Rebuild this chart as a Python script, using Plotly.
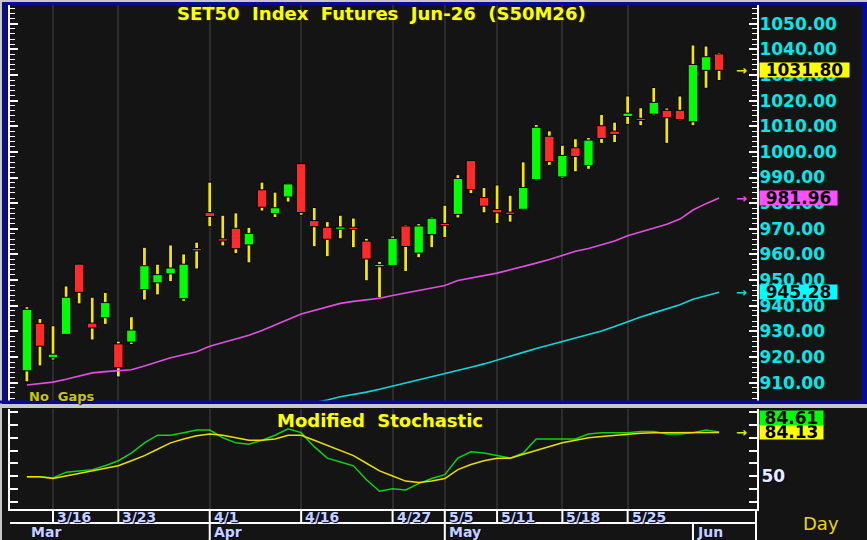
import plotly.graph_objects as go

W, H = 867, 540

# ---------------- data ----------------
days = ["3/12", "3/13", "3/16", "3/17", "3/18", "3/19", "3/20", "3/23", "3/24", "3/25",
        "3/26", "3/27", "3/30", "3/31", "4/1", "4/2", "4/3", "4/7", "4/8", "4/9",
        "4/10", "4/16", "4/17", "4/20", "4/21", "4/22", "4/23", "4/24", "4/27", "4/28",
        "4/29", "4/30", "5/5", "5/6", "5/7", "5/8", "5/11", "5/12", "5/13", "5/14",
        "5/15", "5/18", "5/19", "5/20", "5/21", "5/22", "5/25", "5/26", "5/27", "5/28",
        "5/29", "6/1", "6/2", "6/3"]

open_ = [914.6, 933.1, 919.7, 928.8, 956.2, 933.2, 935.3, 925.1, 925.8, 946.3,
         948.9, 952.4, 942.7, 961.8, 976.3, 966.1, 970.2, 963.7, 985.2, 975.9,
         982.4, 995.4, 973.2, 970.6, 969.8, 970.3, 965.2, 955.2, 955.7, 971.1,
         960.5, 967.7, 972.1, 975.6, 996.6, 982.2, 977.5, 976.0, 977.6, 989.2,
         1006.1, 990.2, 1001.6, 994.7, 1010.2, 1008.1, 1013.8, 1012.6, 1014.7, 1016.2,
         1016.2, 1011.7, 1031.8, 1038.2]
high = [939.6, 935.0, 932.2, 947.7, 956.5, 943.3, 945.2, 926.2, 935.7, 962.8,
        956.2, 963.7, 960.2, 964.8, 988.2, 975.3, 976.2, 970.6, 988.2, 984.3,
        987.8, 995.6, 978.3, 972.8, 975.3, 974.2, 966.3, 957.3, 967.2, 971.6,
        972.0, 974.6, 979.2, 991.1, 996.6, 986.1, 987.1, 983.1, 996.1, 1010.7,
        1008.2, 1002.6, 1005.1, 1005.6, 1014.6, 1011.6, 1021.8, 1017.2, 1025.1, 1017.1,
        1021.8, 1041.7, 1041.3, 1038.8]
low = [910.3, 916.5, 918.8, 928.5, 940.7, 926.6, 932.7, 912.2, 924.9, 942.2,
       944.2, 949.4, 941.7, 954.3, 970.8, 963.3, 960.3, 956.7, 976.9, 974.4,
       980.4, 975.3, 963.0, 959.1, 966.1, 962.6, 949.7, 943.1, 955.5, 953.3,
       958.7, 962.6, 966.6, 974.2, 983.7, 976.2, 972.0, 972.6, 977.5, 988.7,
       994.7, 989.6, 992.2, 993.2, 1003.3, 1003.6, 1010.7, 1010.2, 1014.1, 1003.3,
       1012.1, 1010.2, 1024.8, 1027.8]
close = [938.6, 924.2, 921.1, 943.3, 945.2, 931.3, 941.2, 915.8, 930.5, 955.6,
         952.1, 954.7, 956.2, 961.4, 974.8, 965.2, 962.2, 968.2, 978.4, 978.2,
         987.5, 976.3, 970.8, 965.9, 970.6, 969.7, 958.2, 956.1, 966.3, 963.1,
         971.1, 974.1, 971.2, 989.6, 985.3, 978.8, 976.2, 975.6, 986.1, 1009.6,
         996.2, 998.6, 998.2, 1004.6, 1005.2, 1006.8, 1015.1, 1012.2, 1019.3, 1013.3,
         1012.6, 1034.1, 1037.1, 1031.8]

ma_pink = [909.1, 909.6, 910.2, 911.3, 912.6, 913.8, 914.3, 914.6, 915.0, 916.5,
           918.2, 919.7, 920.9, 922.0, 924.2, 925.6, 926.9, 928.5, 930.3, 932.3,
           934.6, 936.8, 938.2, 939.6, 940.9, 941.7, 942.3, 942.9, 944.0, 945.0,
           946.0, 946.9, 947.9, 949.8, 950.8, 951.7, 952.7, 954.0, 955.2, 956.6,
           958.0, 959.7, 961.2, 962.3, 963.7, 965.2, 967.3, 968.8, 970.3, 971.8,
           973.8, 977.3, 979.8, 981.96]
# long average only enters the visible range around 4/20
ma_cyan_start = 21
ma_cyan = [901.3, 902.2, 903.2, 904.5, 905.3, 906.3, 907.4, 908.6, 909.8, 910.9,
           912.2, 913.5, 914.7, 916.0, 917.3, 918.7, 920.3, 921.8, 923.3, 924.7,
           925.9, 927.2, 928.6, 930.1, 931.9, 933.9, 935.6, 937.2, 938.8, 940.4,
           942.5, 944.0, 945.28]

stoch_k = [49.5, 49.5, 48.5, 53, 54, 55, 58, 62, 68, 76,
           82, 82, 84, 86, 86, 80, 76, 75, 78, 82,
           87, 84, 73, 64, 61, 58, 47, 38, 40, 39,
           44, 48, 51, 64, 69, 68, 66, 64, 68, 79,
           79, 79, 79, 83, 84, 84, 84, 85, 85, 83,
           83, 84, 86, 84.61]
stoch_d = [49.5, 49.5, 48, 50, 52, 54, 56, 58, 62, 66,
           71, 76, 79, 81.5, 83, 82, 80, 78, 78, 79,
           82, 82, 78, 74, 70, 66, 60, 54, 50, 46,
           45, 46, 48, 55, 59, 62, 64, 64, 67, 70,
           73, 76, 78, 80, 81, 82, 83, 83.5, 84, 84,
           84, 84, 84, 84.13]

week_labels = ["3/16", "3/23", "4/1", "4/16", "4/27", "5/5", "5/11", "5/18", "5/25"]
month_labels = ["Mar", "Apr", "May", "Jun"]
month_starts = ["3/12", "4/1", "5/5", "6/1"]

title_text = "SET50  Index  Futures  Jun-26  (S50M26)"
stoch_title = "Modified  Stochastic"

# ---------------- helpers ----------------
def px(x):
    return x / W

def py(y):
    return 1 - y / H

xs = list(range(len(days)))
week_idx = [days.index(d) for d in week_labels]
month_idx = [days.index(d) for d in month_starts]

UP, DOWN, WICK = "#00ff00", "#ff2a2a", "#f4e600"
PINK, CYAN = "#e050e0", "#10d8d8"
BG = "#141414"
GRID = "#2c2c2c"

fig = go.Figure()

# wicks
fig.add_trace(go.Bar(
    x=xs, base=low, y=[h - l for h, l in zip(high, low)], width=0.29,
    marker=dict(color=WICK, line=dict(color="#000000", width=1)),
    xaxis="x", yaxis="y", hoverinfo="skip"))
# bodies
body_base = [min(o, c) for o, c in zip(open_, close)]
body_h = [max(abs(c - o), 0.9) for o, c in zip(open_, close)]
body_col = [UP if c >= o else DOWN for o, c in zip(open_, close)]
fig.add_trace(go.Bar(
    x=xs, base=body_base, y=body_h, width=0.72,
    marker=dict(color=body_col, line=dict(color="#000000", width=1)),
    xaxis="x", yaxis="y", hoverinfo="skip"))

fig.add_trace(go.Scatter(x=xs, y=ma_pink, mode="lines",
                         line=dict(color=PINK, width=1.6), xaxis="x", yaxis="y"))
fig.add_trace(go.Scatter(x=xs[ma_cyan_start:], y=ma_cyan, mode="lines",
                         line=dict(color=CYAN, width=1.6), xaxis="x", yaxis="y"))

fig.add_trace(go.Scatter(x=xs, y=stoch_k, mode="lines",
                         line=dict(color="#10d010", width=1.5), xaxis="x2", yaxis="y2"))
fig.add_trace(go.Scatter(x=xs, y=stoch_d, mode="lines",
                         line=dict(color="#e8e000", width=1.5), xaxis="x2", yaxis="y2"))

# ---------------- axes ----------------
x_left_px, x_right_px = 10, 757
step = 13.06
x0_px = 26.9
xr = [(x_left_px - x0_px) / step, (x_right_px - x0_px) / step]

main_top, main_bot = 5, 402
sc = 2.564
yr = [1040 - (main_bot - 49.3) / sc, 1040 + (49.3 - main_top) / sc]
st_top, st_bot = 409, 509
ssc = 1.275
yr2 = [50 - (st_bot - 476) / ssc, 50 + (476 - st_top) / ssc]

lab_font = dict(family="DejaVu Sans", size=17, color="#10e0f0",
                weight="bold", shadow="1px 1px 1px #003000")

common_x = dict(range=xr, domain=[px(x_left_px), px(x_right_px)], showticklabels=False,
                tickvals=week_idx, ticks="", showgrid=True, gridcolor=GRID, gridwidth=2,
                zeroline=False, fixedrange=True)

fig.update_layout(
    width=W, height=H, margin=dict(l=0, r=0, t=0, b=0),
    paper_bgcolor=BG, plot_bgcolor=BG, showlegend=False, barmode="overlay",
    hovermode=False,
    xaxis=dict(**common_x, anchor="y", showline=False),
    xaxis2=dict(**common_x, anchor="y2", showline=True, linecolor="#ffffff", linewidth=2),
    yaxis=dict(domain=[py(main_bot), py(main_top)], range=yr, side="right", anchor="x",
               dtick=10, tick0=0, tickformat=".2f", showgrid=False, zeroline=False,
               ticks="inside", ticklen=8, tickwidth=2, tickcolor="#ffffff",
               showline=True, linecolor="#ffffff", linewidth=2, mirror="ticks",
               minor=dict(dtick=2, ticks="inside", ticklen=5, tickcolor="#ffffff", tickwidth=1),
               tickfont=lab_font, ticklabelstandoff=-3),
    yaxis3=dict(overlaying="y", range=yr, side="right", anchor="x", dtick=20, tick0=0,
                showgrid=True, gridcolor=GRID, gridwidth=2, showticklabels=False,
                ticks="", zeroline=False, showline=False),
    yaxis2=dict(domain=[py(st_bot), py(st_top)], range=yr2, side="right", anchor="x2",
                tickvals=[30, 40, 50, 60, 70, 80, 90, 100],
                ticktext=["", "", "50", "", "", "", "", ""],
                showgrid=False, zeroline=False,
                ticks="inside", ticklen=8, tickwidth=2, tickcolor="#ffffff",
                showline=True, linecolor="#ffffff", linewidth=2, mirror="ticks",
                tickfont=dict(family="DejaVu Sans", size=17, color="#e8ecff",
                              weight="bold", shadow="1px 1px 1px #000040"),
                ticklabelstandoff=-1),
    yaxis4=dict(overlaying="y2", range=yr2, side="right", anchor="x2", tickvals=[50],
                showgrid=True, gridcolor=GRID, gridwidth=2, showticklabels=False,
                ticks="", zeroline=False, showline=False),
)

# ---------------- frame ----------------
shapes = []
def rect(x0, y0, x1, y1, color):
    shapes.append(dict(type="rect", xref="paper", yref="paper",
                       x0=px(x0), x1=px(x1), y0=py(y1), y1=py(y0),
                       fillcolor=color, line=dict(width=0), layer="above"))
rect(0, 0, W, 2, "#c8c8c8")
rect(0, 2, W, 5, "#0a0a9a")
rect(0, 0, 2, H, "#c8c8c8")
rect(2.5, 2, 7, 403, "#0a0a9a")
rect(862, 2, W, 403, "#0a0a9a")
rect(0, 400.5, W, 403.5, "#0a0a9a")
rect(0, 404, W, 408, "#c8c8c8")

# date axis separators
for i in week_idx:
    shapes.append(dict(type="line", xref="x2", yref="paper", x0=i, x1=i,
                       y0=py(509), y1=py(523), line=dict(color="#ffffff", width=2)))
shapes.append(dict(type="line", xref="paper", yref="paper", x0=px(756), x1=px(756),
                   y0=py(509), y1=py(540), line=dict(color="#ffffff", width=2)))
shapes.append(dict(type="line", xref="paper", yref="paper", x0=px(10), x1=px(757),
                   y0=py(523), y1=py(523), line=dict(color="#ffffff", width=2)))
for i in month_idx[1:]:
    shapes.append(dict(type="line", xref="x2", yref="paper", x0=i, x1=i,
                       y0=py(523), y1=py(540), line=dict(color="#ffffff", width=2)))
fig.update_layout(shapes=shapes)

# ---------------- annotations ----------------
ann = []
ann.append(dict(text=title_text, xref="paper", yref="paper", x=px(381), y=py(14),
                showarrow=False, xanchor="center", yanchor="middle",
                font=dict(family="DejaVu Sans", size=18, color="#ffff00", weight="bold",
                          shadow="1px 1px 1px #303000")))
ann.append(dict(text=stoch_title, xref="paper", yref="paper", x=px(380), y=py(420),
                showarrow=False, xanchor="center", yanchor="middle",
                font=dict(family="DejaVu Sans", size=18, color="#ffff00", weight="bold",
                          shadow="1px 1px 1px #303000")))
ann.append(dict(text="No  Gaps", xref="paper", yref="paper", x=px(27), y=py(396),
                showarrow=False, xanchor="left", yanchor="middle",
                font=dict(family="DejaVu Sans", size=13, color="#c8c800", weight="bold",
                          shadow="1px 1px 1px #000000")))
ann.append(dict(text="Day", xref="paper", yref="paper", x=px(821), y=py(523),
                showarrow=False, xanchor="center", yanchor="middle",
                font=dict(family="DejaVu Sans", size=18, color="#e8d800")))

date_font = dict(family="DejaVu Sans", size=14, color="#c4d2ff", weight="bold",
                 shadow="1px 1px 1px #000030")
for i, t in zip(week_idx, week_labels):
    ann.append(dict(text=t, xref="x2", yref="paper", x=i, y=py(517), xshift=2,
                    showarrow=False, xanchor="left", yanchor="middle", font=date_font))
for i, t in zip(month_idx, month_labels):
    ann.append(dict(text=t, xref="x2", yref="paper", x=i, y=py(532), xshift=2,
                    showarrow=False, xanchor="left", yanchor="middle", font=date_font))

box_font = dict(family="DejaVu Sans", size=17, color="#000000", weight="bold")
def value_box(val, text, bg, yref, w, yshift=0):
    ann.append(dict(text=text, xref="paper", yref=yref, x=px(759), y=val,
                    xanchor="left", yanchor="middle", showarrow=False, bgcolor=bg,
                    width=w, height=14, borderpad=0, align="center", yshift=yshift,
                    font=box_font))

def arrow(val, color, yref):
    ann.append(dict(text="→", xref="paper", yref=yref, x=px(741), y=val,
                    xanchor="center", yanchor="middle", showarrow=False,
                    font=dict(family="DejaVu Sans", size=13, color=color, weight="bold")))

last_close = close[-1]
value_box(last_close, f"{last_close:.2f}", "#ffff00", "y", 89)
arrow(last_close, "#f0e000", "y")
value_box(ma_pink[-1], f"{ma_pink[-1]:.2f}", "#ff50ff", "y", 77)
arrow(ma_pink[-1], PINK, "y")
value_box(ma_cyan[-1], f"{ma_cyan[-1]:.2f}", "#00ffff", "y", 77)
arrow(ma_cyan[-1], CYAN, "y")
value_box(stoch_d[-1], f"{stoch_d[-1]:.2f}", "#ffff00", "y2", 63)
value_box(stoch_d[-1], f"{stoch_k[-1]:.2f}", "#00ff00", "y2", 63, yshift=14)
arrow(stoch_d[-1], "#c8f000", "y2")

fig.update_layout(annotations=ann)

fig.write_html("out.html")
